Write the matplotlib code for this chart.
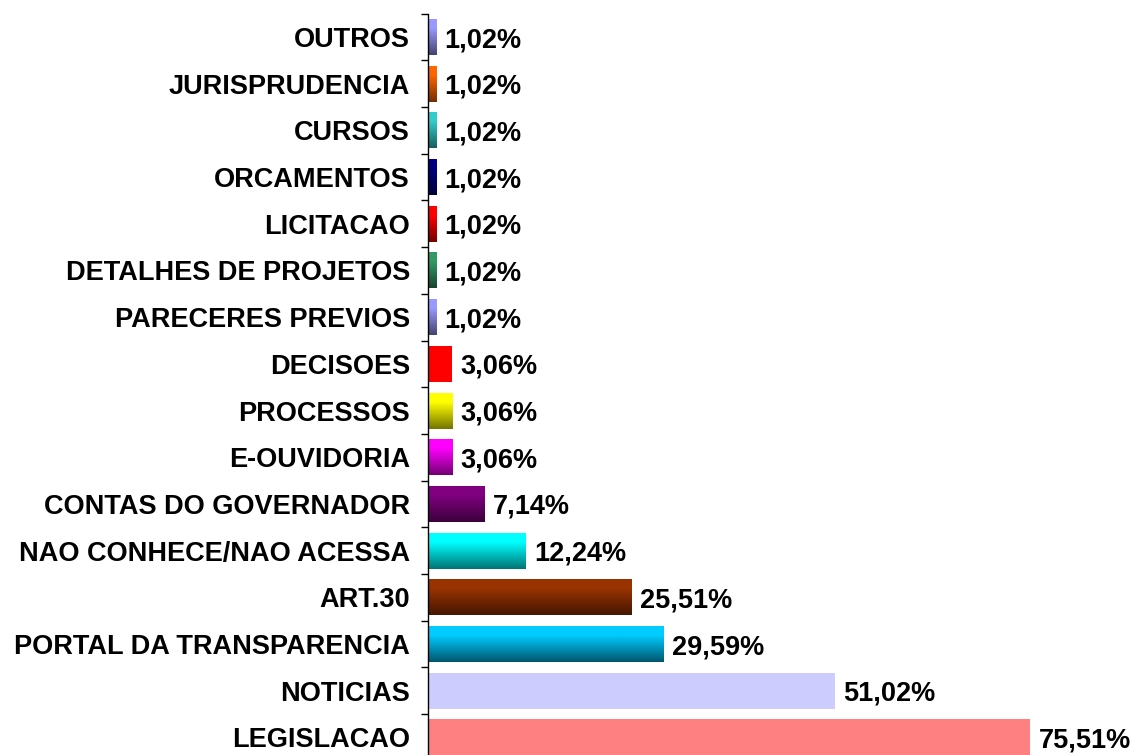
import numpy as np
import matplotlib.pyplot as plt
from matplotlib.colors import LinearSegmentedColormap

# Dados (de baixo para cima)
categorias = ['LEGISLACAO', 'NOTICIAS', 'PORTAL DA TRANSPARENCIA', 'ART.30',
              'NAO CONHECE/NAO ACESSA', 'CONTAS DO GOVERNADOR', 'E-OUVIDORIA',
              'PROCESSOS', 'DECISOES', 'PARECERES PREVIOS', 'DETALHES DE PROJETOS',
              'LICITACAO', 'ORCAMENTOS', 'CURSOS', 'JURISPRUDENCIA', 'OUTROS']
valores = [75.51, 51.02, 29.59, 25.51, 12.24, 7.14, 3.06, 3.06, 3.06,
           1.02, 1.02, 1.02, 1.02, 1.02, 1.02, 1.02]

# Cores (topo, base) de cada barra
cores_topo = ['#FF8080', '#CCCCFF', '#00CCFF', '#993300', '#00FFFF', '#800080',
              '#FF00FF', '#FFFF00', '#FF0000', '#9999FF', '#339966', '#FF0000',
              '#000080', '#33CCCC', '#FF6600', '#9999FF']
cores_base = ['#FF8080', '#CCCCFF', '#00566E', '#451700', '#007373', '#3A003A',
              '#730073', '#737300', '#FF0000', '#44446E', '#174530', '#730000',
              '#00003A', '#175C5C', '#732E00', '#44446E']

plt.rcParams['font.family'] = ['Liberation Sans', 'DejaVu Sans']
tam = 19.5

fig = plt.figure(figsize=(11.4, 7.55), dpi=100)
ax = fig.add_axes([428 / 1140, -0.0076, 1 - 428 / 1140, 0.9895])

y = np.arange(len(categorias))
barras = ax.barh(y, valores, height=0.77, color=cores_topo)

# Gradiente vertical dentro de cada barra
grad = np.linspace(0, 1, 256).reshape(-1, 1)
for barra, c1, c2 in zip(barras, cores_topo, cores_base):
    if c1 == c2:
        continue
    cmap = LinearSegmentedColormap.from_list('g', [(0, c1), (0.25, c1), (1, c2)])
    x0, y0 = barra.get_x(), barra.get_y()
    w, h = barra.get_width(), barra.get_height()
    im = ax.imshow(grad, cmap=cmap, aspect='auto', origin='upper',
                   extent=(x0, x0 + w, y0, y0 + h), zorder=barra.get_zorder() + 0.1)
    im.set_clip_path(barra)

ax.set_xlim(0, 89.3)
ax.set_ylim(-0.5, len(categorias) - 0.5)

# Rótulos de valor
for yi, v in zip(y, valores):
    ax.annotate(f'{v:.2f}%'.replace('.', ','), (v, yi), xytext=(6, 0),
                textcoords='offset points', va='center_baseline', ha='left',
                fontsize=tam, fontweight='bold')

ax.set_yticks(y)
ax.set_yticklabels(categorias, fontsize=tam, fontweight='bold')
for rot in ax.get_yticklabels():
    rot.set_va('center_baseline')
ax.tick_params(axis='y', which='major', length=0, pad=13)
ax.set_yticks(np.arange(-0.5, len(categorias)), minor=True)
ax.tick_params(axis='y', which='minor', length=5, width=1, direction='out')
ax.set_xticks([])

for lado in ['top', 'right', 'bottom']:
    ax.spines[lado].set_visible(False)
ax.spines['left'].set_linewidth(1)

plt.savefig('out.png', dpi=100)
plt.close()
